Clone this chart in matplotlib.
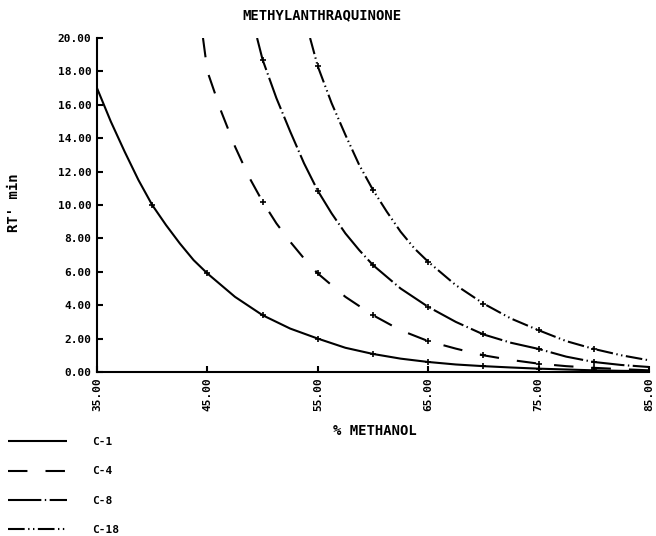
import numpy as np
import matplotlib
matplotlib.use("Agg")
import matplotlib.pyplot as plt

# values (% methanol vs RT' min)
x_c1 = [35, 36.25, 37.5, 38.75, 40, 41.25, 42.5, 43.75, 45, 47.5, 50, 52.5,
        55, 57.5, 60, 62.5, 65, 67.5, 70, 72.5, 75, 77.5, 80, 82.5, 85]
rt_c1 = [17.0, 15.0, 13.2, 11.5, 10.0, 8.8, 7.7, 6.7, 5.9, 4.5, 3.4, 2.6, 2.0,
         1.45, 1.08, 0.8, 0.6, 0.45, 0.35, 0.27, 0.2, 0.15, 0.1, 0.07, 0.05]

x_c4 = [44.6, 45, 46.25, 47.5, 48.75, 50, 51.25, 52.5, 53.75, 55, 57.5, 60,
        62.5, 65, 67.5, 70, 72.5, 75, 77.5, 80, 82.5, 85]
rt_c4 = [20.0, 18.0, 15.6, 13.5, 11.7, 10.2, 8.9, 7.8, 6.8, 5.9, 4.5, 3.4, 2.5,
         1.85, 1.4, 1.0, 0.72, 0.5, 0.35, 0.25, 0.17, 0.1]

x_c8 = [49.5, 50, 51.25, 52.5, 53.75, 55, 56.25, 57.5, 58.75, 60, 62.5, 65,
        67.5, 70, 72.5, 75, 77.5, 80, 82.5, 85]
rt_c8 = [20.0, 18.7, 16.4, 14.4, 12.5, 10.85, 9.5, 8.3, 7.3, 6.4, 5.0, 3.9,
         3.0, 2.25, 1.75, 1.38, 0.92, 0.6, 0.42, 0.3]

x_c18 = [54.3, 55, 56.25, 57.5, 58.75, 60, 61.25, 62.5, 63.75, 65, 67.5, 70,
         72.5, 75, 77.5, 80, 82.5, 85]
rt_c18 = [20.0, 18.3, 16.1, 14.2, 12.4, 10.9, 9.6, 8.4, 7.4, 6.6, 5.2, 4.1,
          3.2, 2.5, 1.85, 1.38, 1.0, 0.7]

labels = ["C-1", "C-4", "C-8", "C-18"]
marks_c1 = [40, 45, 50, 55, 60, 65, 70, 75, 80]
marks_c4 = [50, 55, 60, 65, 70, 75, 80]
marks_c8 = [50, 55, 60, 65, 70, 75, 80]
marks_c18 = [55, 60, 65, 70, 75, 80]
xticks = [35, 45, 55, 65, 75, 85]
yticks = [0, 2, 4, 6, 8, 10, 12, 14, 16, 18, 20]

plt.rcParams['lines.scale_dashes'] = False
mono = "DejaVu Sans Mono"

fig = plt.figure(figsize=(6.56, 5.36), dpi=100)
ax = fig.add_axes([97/656, 1-372/536, (649-97)/656, (372-38)/536])

series = [
    (x_c1, rt_c1, (0, ()), marks_c1),
    (x_c4, rt_c4, (0, (14, 13)), marks_c4),
    (x_c8, rt_c8, (0, (24, 2.5, 1, 2.5)), marks_c8),
    (x_c18, rt_c18, (0, (12, 2.5, 1, 2.5, 1, 2.5)), marks_c18),
]
handles = []
for (xs, ys, ls, mk), lab in zip(series, labels):
    h, = ax.plot(xs, ys, color="black", lw=1.5, linestyle=ls, label=lab)
    sel = np.isin(xs, mk)
    ax.plot(np.array(xs)[sel], np.array(ys)[sel], linestyle="none", marker="+",
            ms=4, mew=1.2, color="black")
    handles.append(h)

ax.set_xlim(35, 85)
ax.set_ylim(0, 20)
ax.set_xticks(xticks)
ax.set_xticklabels(["%.2f" % v for v in xticks], rotation=90,
                   fontfamily=mono, fontweight="bold", fontsize=8)
ax.set_yticks(yticks)
ax.set_yticklabels(["%.2f" % v for v in yticks],
                   fontfamily=mono, fontweight="bold", fontsize=8)
ax.tick_params(direction="in", length=4, width=1.5, pad=4)
for s in ["top", "right"]:
    ax.spines[s].set_visible(False)
for s in ["left", "bottom"]:
    ax.spines[s].set_linewidth(1.5)

fig.text(322/656, 1-15/536, "METHYLANTHRAQUINONE", ha="center", va="center",
         fontfamily=mono, fontsize=10, fontweight="bold")
fig.text(14/656, 1-203/536, "RT' min", ha="center", va="center", rotation=90,
         fontfamily=mono, fontsize=10, fontweight="bold")
fig.text(375/656, 1-431/536, "% METHANOL", ha="center", va="center",
         fontfamily=mono, fontsize=10, fontweight="bold")

fig.legend(handles, labels, loc="upper left", bbox_to_anchor=(8/656, 1-437/536),
           frameon=False, borderpad=0, borderaxespad=0, handlelength=5.3,
           handletextpad=2.3, labelspacing=1.75,
           prop={"family": mono, "weight": "bold", "size": 8})

fig.savefig("out.png", dpi=100)
